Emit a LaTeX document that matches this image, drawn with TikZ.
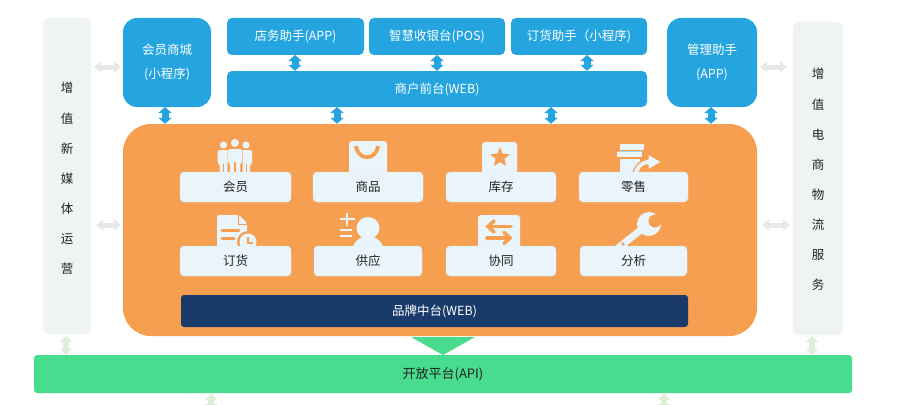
\documentclass[tikz,border=0pt]{standalone}
\usepackage{fontspec}
\setmainfont{Noto Sans CJK SC}
\usetikzlibrary{arrows.meta,shapes.geometric}
\definecolor{sky}{HTML}{25A5E0}
\definecolor{orng}{HTML}{F79F50}
\definecolor{navy}{HTML}{1A3A6C}
\definecolor{grn}{HTML}{48DC8E}
\definecolor{pale}{HTML}{EAF5FB}
\definecolor{side}{HTML}{F0F3F4}
\definecolor{txt}{HTML}{222222}
\definecolor{softgrey}{HTML}{E6E8E8}
\definecolor{softgreen}{HTML}{DDEDD8}
\tikzset{
 x=1pt,y=-1pt,
 boxat/.style n args={4}{minimum width=#3-#1,minimum height=#4-#2,anchor=center,at={({(#1+#3)/2},{(#2+#4)/2})}},
 bluebox/.style={fill=sky,rounded corners=5pt,text=white,font=\fontsize{12.5}{17}\selectfont,inner sep=0,align=center},
 bigblue/.style={bluebox,rounded corners=14pt},
 card/.style={fill=pale,rounded corners=4pt,text=txt,font=\fontsize{12.5}{14}\selectfont,inner sep=0,draw=pale!85!sky,line width=.4pt},
 sidebox/.style={fill=side,rounded corners=6pt,text=txt,font=\fontsize{12.5}{30.1}\selectfont,inner sep=0,align=center},
 biblue/.style={line width=7pt,draw=sky,{Triangle[length=6pt,width=13pt]}-{Triangle[length=6pt,width=13pt]}},
 bigrey/.style={line width=5pt,draw=softgrey,{Triangle[length=7pt,width=11pt]}-{Triangle[length=7pt,width=11pt]}},
 bigreen/.style={line width=5.5pt,draw=softgreen,{Triangle[length=6pt,width=12pt]}-{Triangle[length=6pt,width=12pt]}},
 icon/.style={fill=pale,draw=none},
 cut/.style={fill=orng,draw=none},
}
\begin{document}
\begin{tikzpicture}
\useasboundingbox[fill=white] (0,0) rectangle (909,404);
% side panels
\node[sidebox,boxat={43}{18}{91}{334},text depth=-6pt] (left) {};
\node[text=txt,font=\fontsize{12.5}{30.1}\selectfont,align=center,inner sep=0] (leftlabel) at (67,178.5) {增\\值\\新\\媒\\体\\运\\营};
\node[sidebox,boxat={793}{22}{843}{335}] (right) {};
\node[text=txt,font=\fontsize{12.5}{30.1}\selectfont,align=center,inner sep=0] (rightlabel) at (818,179.5) {增\\值\\电\\商\\物\\流\\服\\务};
% top boxes
\node[bigblue,boxat={123}{18}{211}{107},font=\fontsize{12.5}{24}\selectfont] (mall) {会员商城\\(小程序)};
\node[bluebox,boxat={227}{18}{364}{55}] (store) {店务助手(APP)};
\node[bluebox,boxat={369}{18}{505}{55}] (pos) {智慧收银台(POS)};
\node[bluebox,boxat={511}{18}{647}{55}] (order) {订货助手（小程序)};
\node[bluebox,boxat={227}{71}{647}{107}] (front) {商户前台(WEB)};
\node[bigblue,boxat={667}{18}{757}{107},font=\fontsize{12.5}{24}\selectfont] (mgr) {管理助手\\(APP)};
% core
\node[fill=orng,rounded corners=28pt,boxat={123}{124}{757}{336}] (core) {};
% bottom
\node[fill=grn,rounded corners=3pt,text=txt,font=\fontsize{13}{14}\selectfont,inner sep=0,boxat={34}{355}{852}{393}] (api) {开放平台(API)};
\fill[grn] (411,337) -- (475,337) -- (443,355) -- cycle;
\node[fill=navy,rounded corners=3pt,text=white,font=\fontsize{12.5}{14}\selectfont,inner sep=0,boxat={181}{295}{688}{327}] (brand) {品牌中台(WEB)};
% connectors
\coordinate (a1) at (295,55); \coordinate (a2) at (437,55); \coordinate (a3) at (587,55);
\draw[biblue] (a1) -- (a1 |- front.north);
\draw[biblue] (a2) -- (a2 |- front.north);
\draw[biblue] (a3) -- (a3 |- front.north);
\coordinate (b1) at (165,107); \coordinate (b2) at (337,107); \coordinate (b3) at (551,107); \coordinate (b4) at (711,107);
\draw[biblue] (b1) -- (b1 |- core.north);
\draw[biblue] (b2) -- (b2 |- core.north);
\draw[biblue] (b3) -- (b3 |- core.north);
\draw[biblue] (b4) -- (b4 |- core.north);
\coordinate (c1) at (94,67); \coordinate (c2) at (121,67); \coordinate (c3) at (760,67); \coordinate (c4) at (787,67);
\coordinate (c5) at (96,225); \coordinate (c6) at (121,225); \coordinate (c7) at (762,225); \coordinate (c8) at (790,225);
\draw[bigrey] (c1) -- (c2);
\draw[bigrey] (c3) -- (c4);
\draw[bigrey] (c5) -- (c6);
\draw[bigrey] (c7) -- (c8);
\coordinate (d1) at (66,336); \coordinate (d2) at (812,336);
\draw[bigreen] (d1) -- (d1 |- api.north);
\draw[bigreen] (d2) -- (d2 |- api.north);
\coordinate (e1) at (211,394); \coordinate (e2) at (664,394);
\coordinate (e3) at (211,410); \coordinate (e4) at (664,410);
\begin{scope}
\clip (0,393) rectangle (909,404);
\draw[bigreen] (e1) -- (e3);
\draw[bigreen] (e2) -- (e4);
\end{scope}
% icons row 1
% members
\foreach \cx in {223.5,246}{
 \fill[icon] (\cx,145) circle (3.6);
 \fill[icon,rounded corners=1.5pt] (\cx-6,150) -- (\cx+6,150) -- (\cx+6,164) -- (\cx+4,164) -- (\cx+4,174) -- (\cx-4,174) -- (\cx-4,164) -- (\cx-6,164) -- cycle;
 \fill[orng] (\cx-.5,164) rectangle (\cx+.5,174);
}
\fill[orng,rounded corners=1pt] (227.5,148) rectangle (242.5,176);
\fill[icon] (235,143) circle (4);
\fill[icon,rounded corners=1.5pt] (228,149) -- (242,149) -- (242,163) -- (240,163) -- (240,174) -- (230,174) -- (230,163) -- (228,163) -- cycle;
\fill[orng] (234.3,162) rectangle (235.7,174);
% bag
\fill[icon,rounded corners=3pt] (349,141) rectangle (387,176);
\draw[orng,line width=3.8pt] (356,146) .. controls (358,161) and (376,161) .. (378,146);
% star
\fill[icon,rounded corners=3pt] (482,142) rectangle (517,176);
\node[star,star points=5,star point ratio=2.3,fill=orng,inner sep=0,minimum size=21pt,rounded corners=.6pt] (starmark) at (500,157.5) {};
% retail
\fill[icon] (620,144) rectangle (644,150);
\fill[icon] (617,151.5) rectangle (642,157);
\fill[icon] (620,158.5) rectangle (640,176);
\draw[sky!40,line width=.6pt] (618,151) -- (642,151);
\fill[icon,draw=orng,line width=1.2pt] (632,176) .. controls (634,165) and (641,160) .. (648,159) -- (648,154) -- (662,162) -- (648,170) -- (648,165) .. controls (643,165) and (640,168) .. (638,176) -- cycle;
% cards row 1
\node[card,boxat={180}{172}{291}{202}] (c-member) {会员};
\node[card,boxat={313}{172}{423}{202}] (c-goods) {商品};
\node[card,boxat={446}{172}{556}{202}] (c-stock) {库存};
\node[card,boxat={579}{172}{688}{202}] (c-retail) {零售};
% icons row 2
% document
\fill[icon,rounded corners=2pt] (217,215) -- (239,215) -- (247,223) -- (247,250) -- (217,250) -- cycle;
\draw[orng,line width=1pt] (238,215) -- (238,224) -- (247,224);
\draw[orng,line width=3pt,line cap=round] (222,230) -- (239,230) (222,238) -- (234,238);
\fill[orng] (248,242) circle (11);
\fill[icon] (248,242) circle (8.5);
\draw[orng,line width=2pt] (248,237) -- (248,243) -- (253,243);
% supply
\draw[draw=pale,line width=1.5pt] (340,219) -- (355,219) (347,213) -- (347,226) (340,230) -- (352,230) (340,236) -- (352,236);
\fill[icon] (368,228) ellipse (11.5 and 11);
\fill[icon] (368,252) ellipse (16 and 16);
% tab arrows
\fill[icon,rounded corners=3pt] (478,215) rectangle (520,250);
\draw[orng,line width=3.6pt,line cap=round] (511,226.5) -- (489,226.5);
\draw[orng,line width=3.6pt,line cap=round] (494,221) -- (488,226.5) -- (494,232);
\draw[orng,line width=3.6pt,line cap=round] (487,238) -- (509,238);
\draw[orng,line width=3.6pt,line cap=round] (504,232.5) -- (510,238) -- (504,243.5);
% wrench
\draw[pale,line width=7pt] (613,252) -- (642,229);
\fill[icon] (649,224) circle (12);
\fill[orng] (655,221) circle (6.5);
\fill[orng] (655,221) -- (656,208) -- (668,224) -- cycle;
\fill[orng] (623,244) circle (1.8);
% cards row 2
\node[card,boxat={180}{246}{291}{276}] (c-order) {订货};
\node[card,boxat={314}{246}{422}{276}] (c-supply) {供应};
\node[card,boxat={446}{246}{556}{276}] (c-sync) {协同};
\node[card,boxat={580}{246}{687}{276}] (c-analysis) {分析};
\end{tikzpicture}
\end{document}
